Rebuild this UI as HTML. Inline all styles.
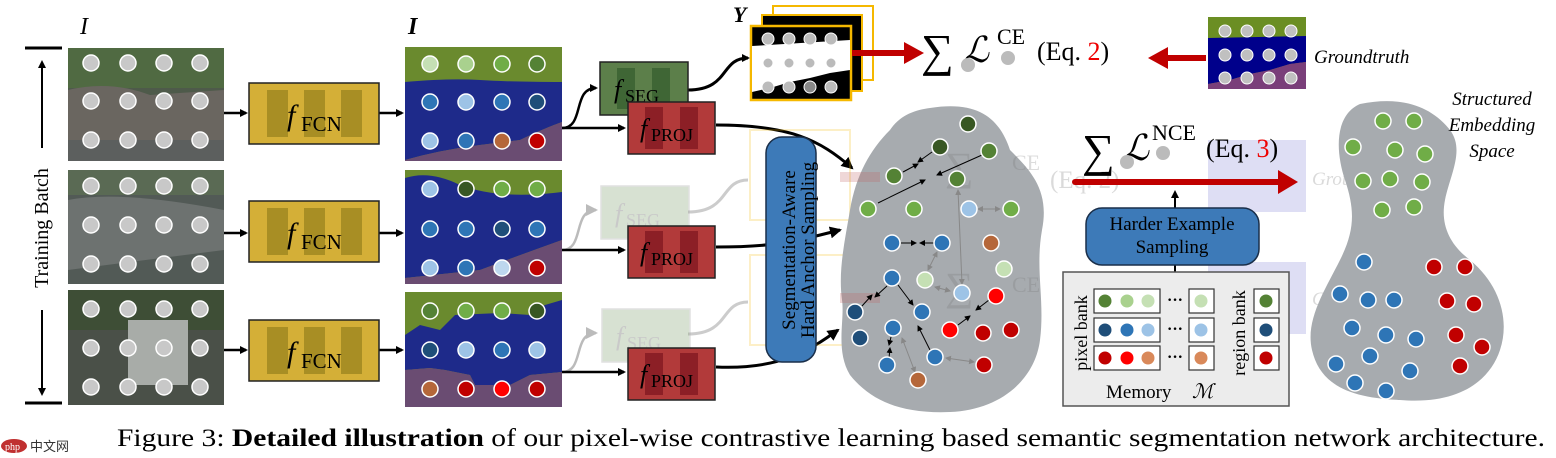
<!DOCTYPE html>
<html><head><meta charset="utf-8"><style>
html,body{margin:0;padding:0;background:#fff;}
svg{display:block;}
text{font-family:"Liberation Serif",serif;}
</style></head><body>
<svg width="1556" height="458" viewBox="0 0 1556 458" xmlns="http://www.w3.org/2000/svg">
<defs>
<marker id="ah" markerWidth="8" markerHeight="8" refX="6" refY="4" orient="auto" markerUnits="userSpaceOnUse"><path d="M0,0 L8,4 L0,8 z" fill="#000"/></marker>
<marker id="ahs" markerWidth="6" markerHeight="6" refX="5" refY="3" orient="auto" markerUnits="userSpaceOnUse"><path d="M0,0 L6,3 L0,6 z" fill="#000"/></marker>
<marker id="ahg" markerWidth="6" markerHeight="6" refX="5" refY="3" orient="auto-start-reverse" markerUnits="userSpaceOnUse"><path d="M0,0 L6,3 L0,6 z" fill="#888"/></marker>
<marker id="ahb" markerWidth="12" markerHeight="12" refX="10" refY="6" orient="auto" markerUnits="userSpaceOnUse"><path d="M0,0 L12,6 L0,12 z" fill="#000"/></marker>
<marker id="ahl" markerWidth="12" markerHeight="12" refX="10" refY="6" orient="auto" markerUnits="userSpaceOnUse"><path d="M0,0 L12,6 L0,12 z" fill="#bbb"/></marker>
</defs>

<text x="80" y="34" font-size="24" font-style="italic">I</text>
<line x1="25" y1="48" x2="62" y2="48" stroke="#000" stroke-width="3"/>
<line x1="25" y1="403" x2="62" y2="403" stroke="#000" stroke-width="3"/>
<line x1="42" y1="148" x2="42" y2="62" stroke="#000" stroke-width="2" marker-end="url(#ah)"/>
<line x1="42" y1="310" x2="42" y2="394" stroke="#000" stroke-width="2" marker-end="url(#ah)"/>
<text x="0" y="0" font-size="20" text-anchor="middle" transform="translate(48,228) rotate(-90)">Training Batch</text>

<g>
<rect x="68" y="48" width="156" height="113" fill="#4e5a4a"/>
<rect x="68" y="48" width="156" height="40" fill="#506a42"/>
<path d="M68,90 Q110,80 150,95 L224,90 L224,140 L68,150 Z" fill="#6a6660"/>
<rect x="68" y="140" width="156" height="21" fill="#5c5f5e"/>
<rect x="68" y="170" width="156" height="114" fill="#525a56"/>
<rect x="68" y="170" width="156" height="25" fill="#5a6a54"/>
<path d="M68,200 Q120,190 224,210 L224,250 L68,270 Z" fill="#6d7270"/>
<rect x="68" y="290" width="156" height="115" fill="#4a5048"/>
<rect x="68" y="290" width="156" height="40" fill="#3e4e36"/>
<rect x="128" y="320" width="60" height="65" fill="#a8aca8"/>
</g>
<g fill="#c8c8c8" stroke="#fff" stroke-width="1.5">
<circle cx="91" cy="63" r="8"/><circle cx="128" cy="63" r="8"/><circle cx="164" cy="63" r="8"/><circle cx="200" cy="63" r="8"/>
<circle cx="91" cy="101" r="8"/><circle cx="128" cy="101" r="8"/><circle cx="164" cy="101" r="8"/><circle cx="200" cy="101" r="8"/>
<circle cx="91" cy="140" r="8"/><circle cx="128" cy="140" r="8"/><circle cx="164" cy="140" r="8"/><circle cx="200" cy="140" r="8"/>
<circle cx="91" cy="186" r="8"/><circle cx="128" cy="186" r="8"/><circle cx="164" cy="186" r="8"/><circle cx="200" cy="186" r="8"/>
<circle cx="91" cy="225" r="8"/><circle cx="128" cy="225" r="8"/><circle cx="164" cy="225" r="8"/><circle cx="200" cy="225" r="8"/>
<circle cx="91" cy="264" r="8"/><circle cx="128" cy="264" r="8"/><circle cx="164" cy="264" r="8"/><circle cx="200" cy="264" r="8"/>
<circle cx="91" cy="309" r="8"/><circle cx="128" cy="309" r="8"/><circle cx="164" cy="309" r="8"/><circle cx="200" cy="309" r="8"/>
<circle cx="91" cy="348" r="8"/><circle cx="128" cy="348" r="8"/><circle cx="164" cy="348" r="8"/><circle cx="200" cy="348" r="8"/>
<circle cx="91" cy="387" r="8"/><circle cx="128" cy="387" r="8"/><circle cx="164" cy="387" r="8"/><circle cx="200" cy="387" r="8"/>
</g>

<g stroke="#000" stroke-width="2.5" fill="none">
<line x1="224" y1="113" x2="246" y2="113" marker-end="url(#ah)"/>
<line x1="224" y1="233" x2="246" y2="233" marker-end="url(#ah)"/>
<line x1="224" y1="350" x2="246" y2="350" marker-end="url(#ah)"/>
<line x1="379" y1="113" x2="402" y2="113" marker-end="url(#ah)"/>
<line x1="379" y1="233" x2="402" y2="233" marker-end="url(#ah)"/>
<line x1="379" y1="350" x2="402" y2="350" marker-end="url(#ah)"/>
</g>

<g>
<g transform="translate(249,83)"><rect width="130" height="61" fill="#d4af37" stroke="#222" stroke-width="1.5"/><rect x="18" y="7" width="21" height="47" fill="#a88e24"/><rect x="55" y="7" width="21" height="47" fill="#a88e24"/><rect x="92" y="7" width="21" height="47" fill="#a88e24"/><text x="38" y="42" font-size="30" font-style="italic">f</text><text x="52" y="48" font-size="21">FCN</text></g>
<g transform="translate(249,201)"><rect width="130" height="61" fill="#d4af37" stroke="#222" stroke-width="1.5"/><rect x="18" y="7" width="21" height="47" fill="#a88e24"/><rect x="55" y="7" width="21" height="47" fill="#a88e24"/><rect x="92" y="7" width="21" height="47" fill="#a88e24"/><text x="38" y="42" font-size="30" font-style="italic">f</text><text x="52" y="48" font-size="21">FCN</text></g>
<g transform="translate(249,320)"><rect width="130" height="61" fill="#d4af37" stroke="#222" stroke-width="1.5"/><rect x="18" y="7" width="21" height="47" fill="#a88e24"/><rect x="55" y="7" width="21" height="47" fill="#a88e24"/><rect x="92" y="7" width="21" height="47" fill="#a88e24"/><text x="38" y="42" font-size="30" font-style="italic">f</text><text x="52" y="48" font-size="21">FCN</text></g>
</g>

<text x="408" y="34" font-size="24" font-style="italic" font-weight="bold">I</text>
<g>
<rect x="405" y="47" width="157" height="114" fill="#6a8a2e"/>
<path d="M405,82 Q450,78 480,80 T562,82 L562,122 Q540,130 520,140 L480,145 Q440,150 405,160 Z" fill="#1e2a8a"/>
<path d="M405,160 Q440,150 480,145 L520,140 Q540,130 562,122 L562,161 L405,161 Z" fill="#6a4c72"/>
<rect x="405" y="170" width="157" height="114" fill="#6a8a2e"/>
<path d="M405,178 Q430,170 460,185 Q500,200 562,192 L562,240 Q520,255 480,270 L405,278 Z" fill="#1e2a8a"/>
<path d="M405,278 L480,270 Q520,255 562,240 L562,284 L405,284 Z" fill="#6a4c72"/>
<rect x="405" y="292" width="157" height="115" fill="#6a8a2e"/>
<path d="M405,335 L420,325 L440,330 L455,315 L500,313 L530,315 L545,305 L562,300 L562,372 L530,375 L510,385 L475,385 L470,375 L445,370 L430,368 L405,370 Z" fill="#1e2a8a"/>
<path d="M405,370 L430,368 L445,370 L470,375 L475,385 L510,385 L530,375 L562,372 L562,407 L405,407 Z" fill="#6a4c72"/>
</g>
<g stroke="#fff" stroke-width="1.5">
<circle cx="430" cy="64" r="8" fill="#c5e0b4"/><circle cx="466" cy="64" r="8" fill="#a9d18e"/><circle cx="502" cy="64" r="8" fill="#70ad47"/><circle cx="537" cy="64" r="8" fill="#548235"/>
<circle cx="430" cy="102" r="8" fill="#2e75b6"/><circle cx="466" cy="102" r="8" fill="#9dc3e6"/><circle cx="502" cy="102" r="8" fill="#2e75b6"/><circle cx="537" cy="102" r="8" fill="#1f4e79"/>
<circle cx="430" cy="141" r="8" fill="#9dc3e6"/><circle cx="466" cy="141" r="8" fill="#2e75b6"/><circle cx="502" cy="141" r="8" fill="#b5673a"/><circle cx="537" cy="141" r="8" fill="#c00000"/>
<circle cx="430" cy="189" r="8" fill="#9dc3e6"/><circle cx="466" cy="189" r="8" fill="#385723"/><circle cx="502" cy="189" r="8" fill="#70ad47"/><circle cx="537" cy="189" r="8" fill="#70ad47"/>
<circle cx="430" cy="229" r="8" fill="#2e75b6"/><circle cx="466" cy="229" r="8" fill="#2e75b6"/><circle cx="502" cy="229" r="8" fill="#1f4e79"/><circle cx="537" cy="229" r="8" fill="#2e75b6"/>
<circle cx="430" cy="268" r="8" fill="#9dc3e6"/><circle cx="466" cy="268" r="8" fill="#2e75b6"/><circle cx="502" cy="268" r="8" fill="#bdd7ee"/><circle cx="537" cy="268" r="8" fill="#c00000"/>
<circle cx="430" cy="311" r="8" fill="#548235"/><circle cx="466" cy="311" r="8" fill="#70ad47"/><circle cx="502" cy="311" r="8" fill="#70ad47"/><circle cx="537" cy="311" r="8" fill="#385723"/>
<circle cx="430" cy="350" r="8" fill="#1f4e79"/><circle cx="466" cy="350" r="8" fill="#9dc3e6"/><circle cx="502" cy="350" r="8" fill="#2e75b6"/><circle cx="537" cy="350" r="8" fill="#9dc3e6"/>
<circle cx="430" cy="389" r="8" fill="#b5673a"/><circle cx="466" cy="389" r="8" fill="#c00000"/><circle cx="502" cy="389" r="8" fill="#ff0000"/><circle cx="537" cy="389" r="8" fill="#c00000"/>
</g>

<g fill="none" stroke-width="2.5">
<path d="M562,128 C585,128 572,88 596,88" stroke="#000" marker-end="url(#ah)"/>
<line x1="562" y1="128" x2="624" y2="128" stroke="#000" marker-end="url(#ah)"/>
<path d="M562,250 C585,250 572,210 596,210" stroke="#bbb" marker-end="url(#ahl)"/>
<line x1="562" y1="250" x2="624" y2="250" stroke="#000" marker-end="url(#ah)"/>
<path d="M562,372 C585,372 572,333 596,333" stroke="#bbb" marker-end="url(#ahl)"/>
<line x1="562" y1="372" x2="624" y2="372" stroke="#000" marker-end="url(#ah)"/>
<path d="M688,90 C730,90 720,58 748,58" stroke="#000" stroke-width="3" marker-end="url(#ah)"/>
<path d="M688,212 C730,212 720,180 748,180" stroke="#ccc" stroke-width="3"/>
<path d="M688,334 C730,334 720,302 748,302" stroke="#ccc" stroke-width="3"/>
<path d="M716,125 C790,125 820,140 852,168" stroke="#000" stroke-width="3" marker-end="url(#ahb)"/>
<path d="M716,247 C780,247 800,240 840,230" stroke="#000" stroke-width="3" marker-end="url(#ahb)"/>
<path d="M716,367 C780,370 810,350 838,330" stroke="#000" stroke-width="3" marker-end="url(#ahb)"/>
</g>

<g transform="translate(600,62)"><rect width="88" height="53" fill="#5c7f4a" stroke="#222" stroke-width="1.5"/><rect x="17" y="6" width="18" height="41" fill="#3f6635"/><rect x="52" y="6" width="18" height="41" fill="#3f6635"/><text x="14" y="36" font-size="26" font-style="italic">f</text><text x="25" y="40" font-size="18">SEG</text></g>
<g opacity="0.35" transform="translate(601,186)"><rect width="88" height="53" fill="#8faa80" stroke="#aaa" stroke-width="1.5"/><text x="14" y="36" font-size="26" font-style="italic" fill="#666">f</text><text x="25" y="40" font-size="18" fill="#666">SEG</text></g>
<g opacity="0.35" transform="translate(602,309)"><rect width="88" height="53" fill="#8faa80" stroke="#aaa" stroke-width="1.5"/><text x="14" y="36" font-size="26" font-style="italic" fill="#666">f</text><text x="25" y="40" font-size="18" fill="#666">SEG</text></g>
<g transform="translate(628,102)"><rect width="87" height="52" fill="#b23a3a" stroke="#222" stroke-width="1.5"/><rect x="17" y="5" width="18" height="42" fill="#8c1f26"/><rect x="52" y="5" width="18" height="42" fill="#8c1f26"/><text x="12" y="35" font-size="26" font-style="italic">f</text><text x="23" y="39" font-size="18">PROJ</text></g>
<g transform="translate(628,226)"><rect width="87" height="52" fill="#b23a3a" stroke="#222" stroke-width="1.5"/><rect x="17" y="5" width="18" height="42" fill="#8c1f26"/><rect x="52" y="5" width="18" height="42" fill="#8c1f26"/><text x="12" y="35" font-size="26" font-style="italic">f</text><text x="23" y="39" font-size="18">PROJ</text></g>
<g transform="translate(628,348)"><rect width="87" height="52" fill="#b23a3a" stroke="#222" stroke-width="1.5"/><rect x="17" y="5" width="18" height="42" fill="#8c1f26"/><rect x="52" y="5" width="18" height="42" fill="#8c1f26"/><text x="12" y="35" font-size="26" font-style="italic">f</text><text x="23" y="39" font-size="18">PROJ</text></g>

<text x="733" y="22" font-size="22" font-style="italic" font-weight="bold">Y</text>
<rect x="773" y="6" width="100" height="74" fill="#fff" stroke="#f5b800" stroke-width="2"/>
<rect x="762" y="15" width="100" height="76" fill="#000" stroke="#f5b800" stroke-width="2"/>
<rect x="751" y="26" width="100" height="74" fill="#000" stroke="#f5b800" stroke-width="2.5"/>
<path d="M752,46 L850,40 L850,70 L830,73 L810,78 L790,82 L770,88 L752,92 Z" fill="#fff"/>
<g fill="#bbb" stroke="#fff" stroke-width="1"><circle cx="768" cy="39" r="6"/><circle cx="789" cy="39" r="6"/><circle cx="810" cy="39" r="6"/><circle cx="831" cy="39" r="6"/>
<circle cx="768" cy="63" r="5"/><circle cx="789" cy="63" r="5"/><circle cx="810" cy="63" r="5"/><circle cx="831" cy="63" r="5"/>
<circle cx="768" cy="87" r="6"/><circle cx="789" cy="87" r="6"/><circle cx="810" cy="87" r="6" fill="#888"/><circle cx="831" cy="87" r="6"/></g>
<line x1="852" y1="53" x2="908" y2="53" stroke="#c00000" stroke-width="6"/>
<path d="M904,42 L924,53 L904,64 Z" fill="#c00000"/>
<text x="921" y="66" font-size="46">∑</text>
<text x="963" y="62" font-size="36" font-style="italic" font-family="DejaVu Serif,serif">ℒ</text>
<text x="997" y="44" font-size="22">CE</text>
<circle cx="968" cy="65" r="7" fill="#bbb"/><circle cx="1008" cy="58" r="7" fill="#bbb"/>
<text x="1037" y="60" font-size="26">(Eq. <tspan fill="#e00">2</tspan>)</text>

<line x1="1206" y1="58" x2="1165" y2="58" stroke="#c00000" stroke-width="6"/>
<path d="M1168,47 L1148,58 L1168,69 Z" fill="#c00000"/>
<rect x="1208" y="17" width="98" height="72" fill="#6b8e23"/>
<path d="M1208,38 L1306,36 L1306,62 L1290,64 L1270,70 L1250,74 L1230,80 L1208,84 Z" fill="#00008b"/>
<path d="M1208,84 L1230,80 L1250,74 L1270,70 L1290,64 L1306,62 L1306,89 L1208,89 Z" fill="#7a3f7a"/>
<g fill="#c0c0c0" stroke="#fff" stroke-width="1"><circle cx="1225" cy="31" r="6"/><circle cx="1247" cy="31" r="6"/><circle cx="1269" cy="31" r="6"/><circle cx="1291" cy="31" r="6"/>
<circle cx="1225" cy="55" r="6"/><circle cx="1247" cy="55" r="6"/><circle cx="1269" cy="55" r="6"/><circle cx="1291" cy="55" r="6"/>
<circle cx="1225" cy="78" r="6"/><circle cx="1247" cy="78" r="6"/><circle cx="1269" cy="78" r="6"/><circle cx="1291" cy="78" r="6"/></g>
<text x="1314" y="63" font-size="19" font-style="italic">Groundtruth</text>

<g opacity="0.22">
<rect x="750" y="130" width="100" height="90" fill="none" stroke="#f5b800" stroke-width="2"/>
<rect x="750" y="255" width="100" height="90" fill="none" stroke="#f5b800" stroke-width="2"/>
<rect x="1208" y="140" width="98" height="72" fill="#6a6acc"/>
<rect x="1208" y="262" width="98" height="72" fill="#6a6acc"/>
</g>
<g opacity="0.3" fill="#888">
<text x="1050" y="188" font-size="25">(Eq. 2)</text>
<text x="1312" y="185" font-size="19" font-style="italic">Groundtruth</text>
<text x="1312" y="305" font-size="19" font-style="italic">Groundtruth</text>
</g>

<path d="M930,108 C980,100 1000,120 1010,150 C1030,170 1050,190 1042,230 C1035,270 1045,300 1040,340 C1035,380 1000,410 950,412 C900,414 870,400 850,375 C835,350 845,320 842,300 C838,270 845,240 850,210 C856,175 870,150 890,130 C900,115 915,110 930,108 Z" fill="#a7abaf"/>
<g opacity="0.25">
<rect x="840" y="172" width="40" height="10" fill="#c06060"/>
<rect x="840" y="293" width="40" height="10" fill="#c06060"/>
<text x="945" y="180" font-size="40" fill="#777">∑</text>
<text x="1012" y="170" font-size="22" fill="#777">CE</text>
<text x="945" y="300" font-size="40" fill="#777">∑</text>
<text x="1012" y="292" font-size="22" fill="#777">CE</text>
</g>
<g stroke="#000" stroke-width="1" fill="none">
<line x1="903" y1="172" x2="918" y2="164" marker-end="url(#ahs)"/>
<line x1="932" y1="152" x2="918" y2="162" marker-end="url(#ahs)"/>
<line x1="982" y1="155" x2="937" y2="175" marker-end="url(#ahs)"/>
<line x1="878" y1="203" x2="925" y2="180" marker-end="url(#ahs)"/>
<line x1="901" y1="243" x2="916" y2="243" marker-end="url(#ahs)"/>
<line x1="934" y1="243" x2="920" y2="243" marker-end="url(#ahs)"/>
<line x1="887" y1="286" x2="875" y2="297" marker-end="url(#ahs)"/>
<line x1="862" y1="306" x2="872" y2="295" marker-end="url(#ahs)"/>
<line x1="898" y1="285" x2="913" y2="305" marker-end="url(#ahs)"/>
<line x1="931" y1="352" x2="918" y2="326" marker-end="url(#ahs)"/>
<line x1="989" y1="300" x2="976" y2="310" marker-end="url(#ahs)"/>
<line x1="958" y1="325" x2="970" y2="316" marker-end="url(#ahs)"/>
<line x1="889" y1="358" x2="890" y2="348" marker-end="url(#ahs)"/>
<line x1="891" y1="337" x2="889" y2="345" marker-end="url(#ahs)"/>
</g>
<g stroke="#888" stroke-width="1" fill="none">
<line x1="978" y1="209" x2="1000" y2="209" marker-start="url(#ahg)" marker-end="url(#ahg)"/>
<line x1="937" y1="252" x2="928" y2="270" marker-start="url(#ahg)" marker-end="url(#ahg)"/>
<line x1="958" y1="190" x2="962" y2="284" marker-start="url(#ahg)" marker-end="url(#ahg)"/>
<line x1="935" y1="287" x2="950" y2="291" marker-start="url(#ahg)" marker-end="url(#ahg)"/>
<line x1="902" y1="338" x2="915" y2="372" marker-start="url(#ahg)" marker-end="url(#ahg)"/>
<line x1="946" y1="358" x2="974" y2="362" marker-start="url(#ahg)" marker-end="url(#ahg)"/>
</g>
<g stroke="#fff" stroke-width="1.5">
<circle cx="968" cy="124" r="8" fill="#385723"/>
<circle cx="940" cy="147" r="8" fill="#385723"/>
<circle cx="989" cy="151" r="8" fill="#548235"/>
<circle cx="894" cy="176" r="8" fill="#548235"/>
<circle cx="957" cy="179" r="8" fill="#548235"/>
<circle cx="868" cy="209" r="8" fill="#70ad47"/>
<circle cx="914" cy="209" r="8" fill="#70ad47"/>
<circle cx="969" cy="209" r="8" fill="#9dc3e6"/>
<circle cx="1011" cy="209" r="8" fill="#70ad47"/>
<circle cx="892" cy="243" r="8" fill="#2e75b6"/>
<circle cx="942" cy="243" r="8" fill="#2e75b6"/>
<circle cx="991" cy="243" r="8" fill="#b5673a"/>
<circle cx="892" cy="278" r="8" fill="#2e75b6"/>
<circle cx="925" cy="280" r="8" fill="#c5e0b4"/>
<circle cx="1004" cy="269" r="8" fill="#c5e0b4"/>
<circle cx="962" cy="293" r="8" fill="#9dc3e6"/>
<circle cx="996" cy="296" r="8" fill="#ff0000"/>
<circle cx="855" cy="312" r="8" fill="#1f4e79"/>
<circle cx="922" cy="312" r="8" fill="#2e75b6"/>
<circle cx="860" cy="338" r="8" fill="#1f4e79"/>
<circle cx="893" cy="328" r="8" fill="#2e75b6"/>
<circle cx="950" cy="330" r="8" fill="#ff0000"/>
<circle cx="983" cy="333" r="8" fill="#c00000"/>
<circle cx="1011" cy="330" r="8" fill="#c00000"/>
<circle cx="935" cy="357" r="8" fill="#2e75b6"/>
<circle cx="887" cy="365" r="8" fill="#2e75b6"/>
<circle cx="984" cy="365" r="8" fill="#c00000"/>
<circle cx="918" cy="380" r="8" fill="#b5673a"/>
</g>

<rect x="766" y="137" width="50" height="225" rx="16" fill="#3d7ab8" stroke="#1a2f4a" stroke-width="1.5"/>
<text x="0" y="0" font-size="19" text-anchor="middle" transform="translate(795,250) rotate(-90)">Segmentation-Aware</text>
<text x="0" y="0" font-size="19" text-anchor="middle" transform="translate(814,250) rotate(-90)">Hard Anchor Sampling</text>

<text x="1082" y="166" font-size="46">∑</text>
<text x="1123" y="160" font-size="36" font-style="italic" font-family="DejaVu Serif,serif">ℒ</text>
<text x="1152" y="140" font-size="22">NCE</text>
<circle cx="1127" cy="162" r="7" fill="#bbb"/><circle cx="1163" cy="153" r="7" fill="#bbb"/>
<text x="1206" y="157" font-size="26">(Eq. <tspan fill="#e00">3</tspan>)</text>
<line x1="1075" y1="182" x2="1282" y2="182" stroke="#c00000" stroke-width="6" stroke-linecap="round"/>
<path d="M1278,170 L1298,182 L1278,194 Z" fill="#c00000"/>
<line x1="1175" y1="272" x2="1175" y2="192" stroke="#000" stroke-width="2" marker-end="url(#ah)"/>
<rect x="1086" y="208" width="173" height="57" rx="16" fill="#3d7ab8" stroke="#1a2f4a" stroke-width="1.5"/>
<text x="1172" y="230" font-size="19" text-anchor="middle">Harder Example</text>
<text x="1172" y="253" font-size="19" text-anchor="middle">Sampling</text>

<rect x="1063" y="272" width="226" height="134" fill="#ececec" stroke="#555" stroke-width="1.5"/>
<text x="0" y="0" font-size="18" text-anchor="middle" transform="translate(1087,333) rotate(-90)">pixel bank</text>
<text x="0" y="0" font-size="18" text-anchor="middle" transform="translate(1245,333) rotate(-90)">region bank</text>
<g fill="#fff" stroke="#333" stroke-width="1.2">
<rect x="1094" y="289" width="66" height="24"/><rect x="1094" y="318" width="66" height="24"/><rect x="1094" y="346" width="66" height="24"/>
<rect x="1189" y="289" width="25" height="24"/><rect x="1189" y="318" width="25" height="24"/><rect x="1189" y="346" width="25" height="24"/>
<rect x="1254" y="289" width="25" height="24"/><rect x="1254" y="318" width="25" height="24"/><rect x="1254" y="346" width="25" height="24"/>
</g>
<g stroke="#fff" stroke-width="1">
<circle cx="1105" cy="301" r="7" fill="#548235"/><circle cx="1127" cy="301" r="7" fill="#a9d18e"/><circle cx="1148" cy="301" r="7" fill="#c5e0b4"/>
<circle cx="1105" cy="330" r="7" fill="#1f4e79"/><circle cx="1127" cy="330" r="7" fill="#2e75b6"/><circle cx="1148" cy="330" r="7" fill="#9dc3e6"/>
<circle cx="1105" cy="358" r="7" fill="#c00000"/><circle cx="1127" cy="358" r="7" fill="#ff0000"/><circle cx="1148" cy="358" r="7" fill="#d9895a"/>
<circle cx="1201" cy="301" r="7" fill="#c5e0b4"/><circle cx="1201" cy="330" r="7" fill="#9dc3e6"/><circle cx="1201" cy="358" r="7" fill="#d9895a"/>
<circle cx="1266" cy="301" r="7" fill="#548235"/><circle cx="1266" cy="330" r="7" fill="#1f4e79"/><circle cx="1266" cy="358" r="7" fill="#c00000"/>
</g>
<text x="1175" y="305" font-size="16" font-weight="bold" text-anchor="middle">···</text>
<text x="1175" y="334" font-size="16" font-weight="bold" text-anchor="middle">···</text>
<text x="1175" y="362" font-size="16" font-weight="bold" text-anchor="middle">···</text>
<text x="1106" y="398" font-size="19">Memory</text>
<text x="1192" y="398" font-size="20" font-style="italic" font-family="DejaVu Serif,serif">ℳ</text>

<path d="M1360,104 C1400,96 1430,105 1450,130 C1465,150 1450,175 1445,200 C1440,225 1450,245 1470,260 C1500,285 1510,320 1500,350 C1490,380 1460,405 1400,400 C1350,398 1320,385 1312,350 C1305,320 1325,290 1340,260 C1355,230 1355,210 1345,180 C1335,150 1335,115 1360,104 Z" fill="#a7abaf"/>
<g stroke="#fff" stroke-width="1.5">
<g fill="#70ad47">
<circle cx="1383" cy="121" r="8"/><circle cx="1414" cy="121" r="8"/><circle cx="1353" cy="147" r="8"/><circle cx="1395" cy="150" r="8"/><circle cx="1425" cy="154" r="8"/>
<circle cx="1363" cy="181" r="8"/><circle cx="1390" cy="179" r="8"/><circle cx="1422" cy="182" r="8"/><circle cx="1382" cy="210" r="8"/><circle cx="1414" cy="207" r="8"/>
</g>
<g fill="#2e75b6">
<circle cx="1364" cy="262" r="8"/><circle cx="1340" cy="294" r="8"/><circle cx="1368" cy="300" r="8"/><circle cx="1394" cy="300" r="8"/>
<circle cx="1352" cy="328" r="8"/><circle cx="1386" cy="335" r="8"/><circle cx="1416" cy="339" r="8"/>
<circle cx="1370" cy="356" r="8"/><circle cx="1336" cy="364" r="8"/><circle cx="1410" cy="371" r="8"/><circle cx="1355" cy="383" r="8"/><circle cx="1386" cy="391" r="8"/>
</g>
<g fill="#c00000">
<circle cx="1434" cy="267" r="8"/><circle cx="1465" cy="267" r="8"/><circle cx="1447" cy="301" r="8"/><circle cx="1474" cy="304" r="8"/>
<circle cx="1456" cy="335" r="8"/><circle cx="1482" cy="347" r="8"/><circle cx="1460" cy="366" r="8"/>
</g>
</g>
<g font-size="19" font-style="italic" text-anchor="middle">
<text x="1492" y="105">Structured</text>
<text x="1492" y="131">Embedding</text>
<text x="1492" y="157">Space</text>
</g>

<text x="117" y="446" font-size="25" textLength="1428" lengthAdjust="spacingAndGlyphs">Figure 3: <tspan font-weight="bold">Detailed illustration</tspan> of our pixel-wise contrastive learning based semantic segmentation network architecture.</text>
<g>
<ellipse cx="14" cy="446" rx="13" ry="7" fill="#c03030"/>
<text x="5" y="450" font-size="10" fill="#fff" font-family="Liberation Sans,sans-serif">php</text>
<text x="30" y="451" font-size="13" fill="#333" font-family="Liberation Sans,'Noto Sans CJK SC',sans-serif">中文网</text>
</g>
</svg>
</body></html>
